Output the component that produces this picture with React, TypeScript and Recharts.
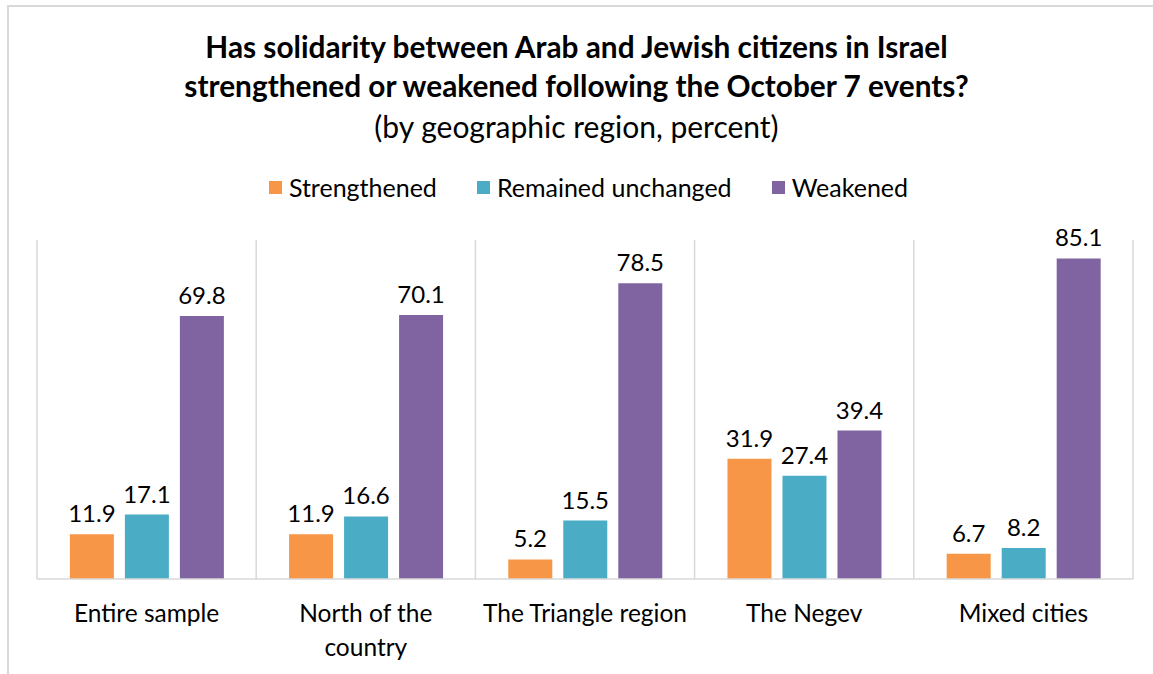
import React from 'react';
import { BarChart, Bar, XAxis, YAxis, CartesianGrid, LabelList } from 'recharts';

const categories = ['Entire sample', 'North of the country', 'The Triangle region', 'The Negev', 'Mixed cities'];
const tickLines = [['Entire sample'], ['North of the', 'country'], ['The Triangle region'], ['The Negev'], ['Mixed cities']];
const strengthened = [11.9, 11.9, 5.2, 31.9, 6.7];
const unchanged = [17.1, 16.6, 15.5, 27.4, 8.2];
const weakened = [69.8, 70.1, 78.5, 39.4, 85.1];

const series = [
  { key: 'strengthened', name: 'Strengthened', color: '#F79646' },
  { key: 'unchanged', name: 'Remained unchanged', color: '#4BACC6' },
  { key: 'weakened', name: 'Weakened', color: '#8064A2' },
];

const data = categories.map((c, i) => ({
  category: c,
  strengthened: strengthened[i],
  unchanged: unchanged[i],
  weakened: weakened[i],
}));

const FONT = 'Lato, "Open Sans", sans-serif';

const CategoryTick = (props: any) => {
  const { x, y, index } = props;
  const lines = tickLines[index] || [];
  return (
    <g transform={`translate(${x},${y})`}>
      {lines.map((l, i) => (
        <text key={i} x={0} y={35 + i * 34} textAnchor="middle" fill="#000" fontSize={24.5} fontFamily={FONT}>
          {l}
        </text>
      ))}
    </g>
  );
};

export default function App() {
  return (
    <div style={{ position: 'absolute', left: 0, top: 0, width: 1153, height: 674, overflow: 'hidden', background: '#fff', fontFamily: FONT }}>
      <div style={{ position: 'absolute', left: 7, top: 5, width: 1200, height: 720, border: '2px solid #d9d9d9' }} />
      <div style={{ position: 'absolute', left: 0, top: 27, width: 1153, textAlign: 'center', fontSize: 29.8, fontWeight: 700, lineHeight: '39px', color: '#000' }}>
        Has solidarity between Arab and Jewish citizens in Israel
        <br />
        strengthened or weakened following the October 7 events?
      </div>
      <div style={{ position: 'absolute', left: 0, top: 106, width: 1153, textAlign: 'center', fontSize: 30, lineHeight: '40px', color: '#000' }}>
        (by geographic region, percent)
      </div>
      <div style={{ position: 'absolute', left: 12, top: 172, width: 1153, display: 'flex', justifyContent: 'center', fontSize: 25, lineHeight: '30px', color: '#000' }}>
        {series.map((s, i) => (
          <div key={s.key} style={{ display: 'flex', alignItems: 'center', marginLeft: i === 0 ? 0 : 40 }}>
            <span style={{ display: 'inline-block', width: 13, height: 13, background: s.color, marginRight: 7 }} />
            <span>{s.name}</span>
          </div>
        ))}
      </div>
      <div style={{ position: 'absolute', left: 0, top: 0 }}>
        <BarChart
          width={1153}
          height={674}
          data={data}
          margin={{ top: 240, right: 20, left: 37, bottom: 0 }}
          barCategoryGap="15%"
          barGap={11}
        >
          <CartesianGrid
            horizontal={false}
            stroke="#d9d9d9"
            strokeWidth={1.5}
            verticalCoordinatesGenerator={({ offset }: any) =>
              Array.from({ length: categories.length + 1 }, (_, i) => offset.left + (offset.width * i) / categories.length)
            }
          />
          <XAxis
            dataKey="category"
            height={95}
            tickLine={false}
            axisLine={{ stroke: '#d9d9d9', strokeWidth: 1.5 }}
            tick={<CategoryTick />}
            interval={0}
          />
          <YAxis hide domain={[0, 90]} />
          {series.map((s) => (
            <Bar key={s.key} dataKey={s.key} name={s.name} fill={s.color} isAnimationActive={false}>
              <LabelList dataKey={s.key} position="top" offset={12} fill="#000" fontSize={24} fontFamily={FONT} />
            </Bar>
          ))}
        </BarChart>
      </div>
    </div>
  );
}
